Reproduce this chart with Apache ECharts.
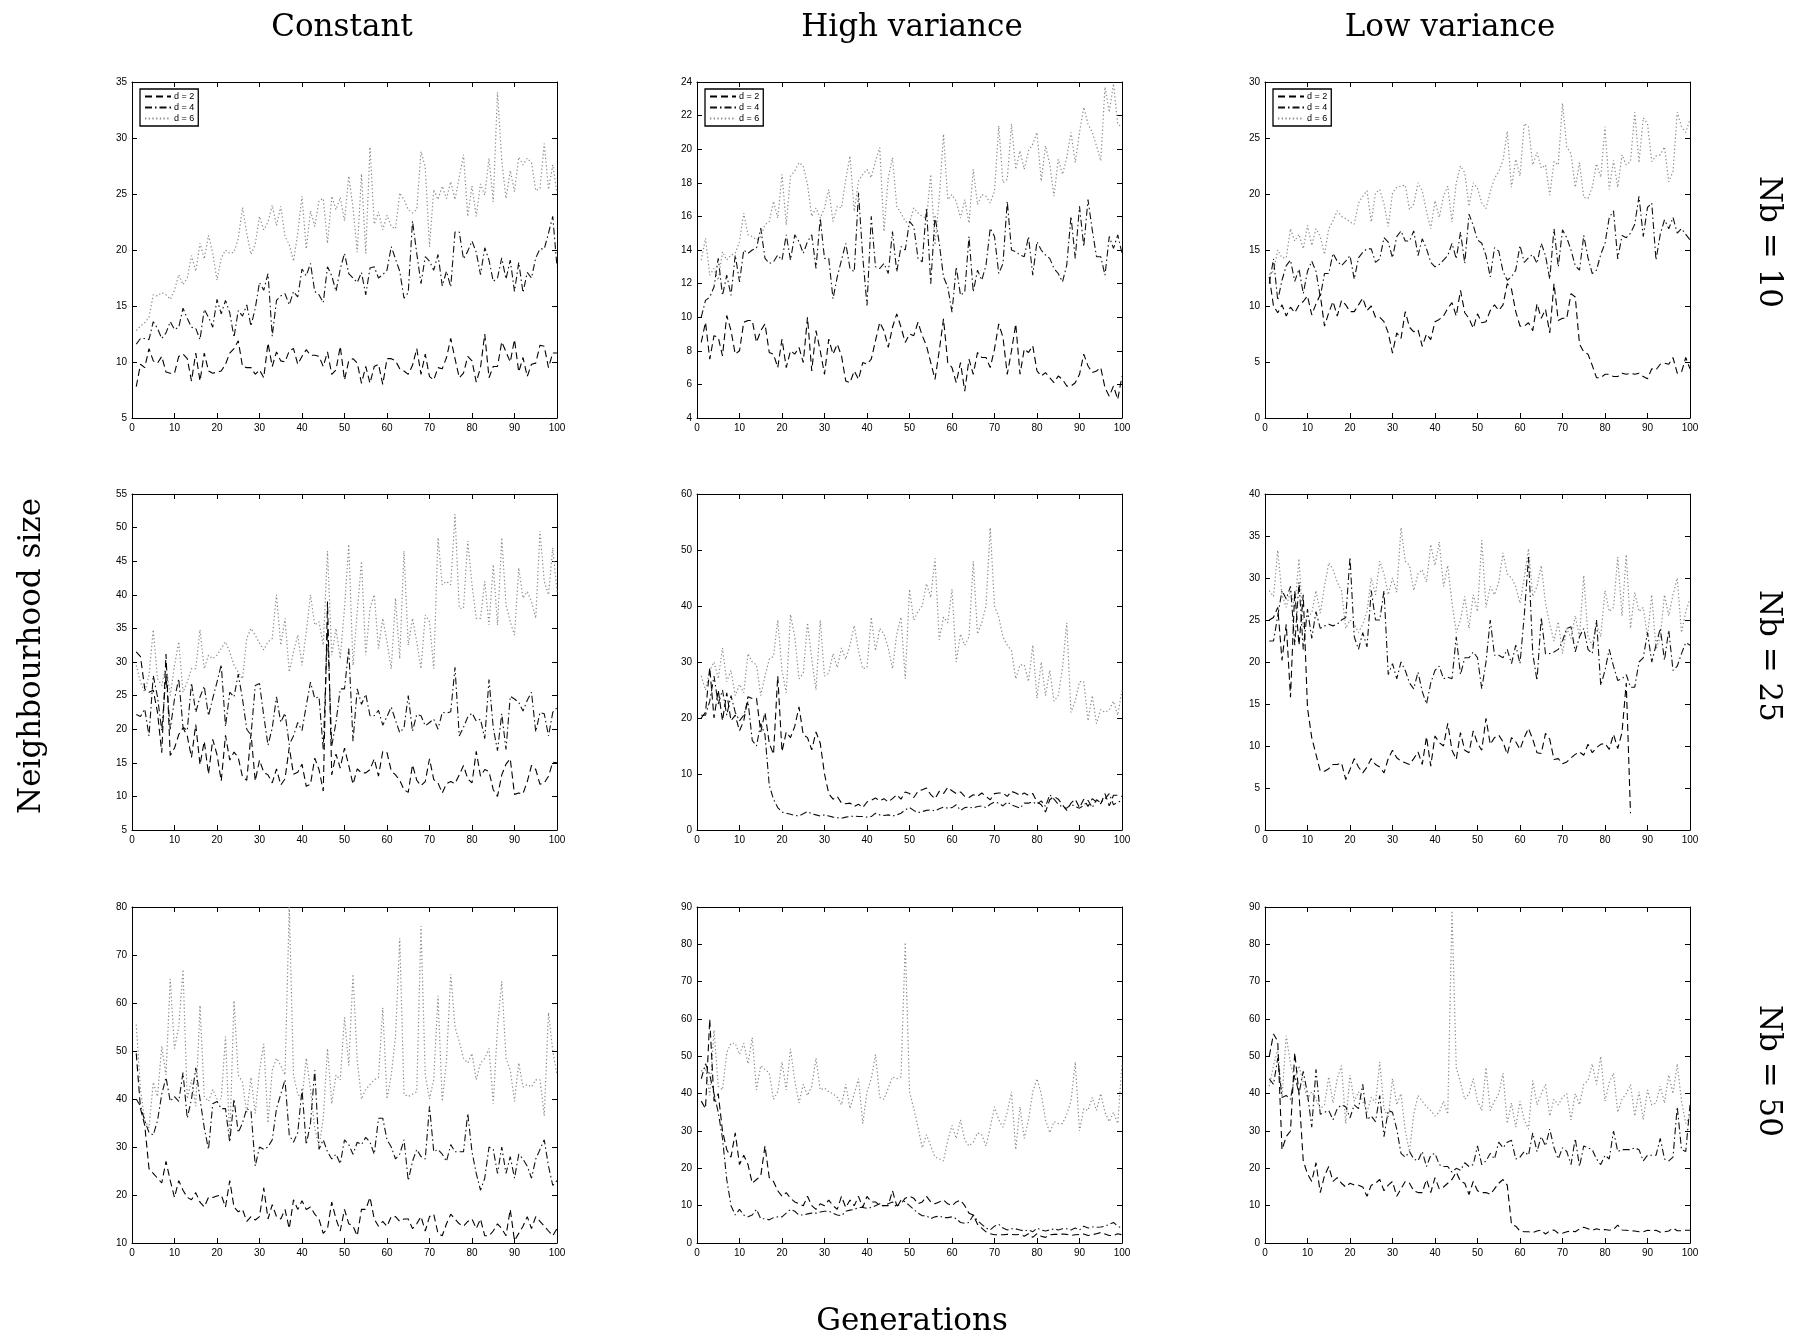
<!DOCTYPE html>
<html>
<head>
<meta charset="utf-8">
<script src="https://cdn.jsdelivr.net/npm/echarts@6/dist/echarts.min.js"></script>
<style>
  html, body { margin: 0; padding: 0; background: #fff; }
  #chart { width: 1810px; height: 1339px; }
</style>
</head>
<body>
<div id="chart"></div>
<script>
// generations on the x axis (1..100)
var generations = [];
for (var g = 1; g <= 100; g++) generations.push(g);

var columnTitles = ['Constant', 'High variance', 'Low variance'];
var rowTitles = ['Nb = 10', 'Nb = 25', 'Nb = 50'];
var seriesNames = ['d = 2', 'd = 4', 'd = 6'];
var xTitle = 'Generations';
var yTitle = 'Neighbourhood size';

// ---- Constant, Nb = 10 ----
var constNb10_d2 = [7.8,9.8,9.5,11.2,10.1,9.9,10.5,9.1,9.0,9.0, 10.5,10.7,10.3,8.3,10.8,8.3,10.8,9.2,9.0,9.1, 9.2,9.8,10.8,11.2,11.9,9.6,9.5,9.5,8.9,9.3, 8.6,11.7,9.6,10.9,10.1,10.0,11.0,11.2,9.8,10.5, 11.1,10.6,10.6,10.5,9.6,10.9,8.9,9.3,11.4,8.4, 10.1,10.3,9.9,8.1,9.6,8.1,9.6,9.8,8.0,10.3, 10.3,10.1,9.4,9.2,8.9,9.7,11.2,8.9,10.7,8.7, 8.4,9.5,9.4,10.4,12.1,10.3,8.6,9.0,10.5,10.1, 8.2,9.5,12.5,8.6,9.6,9.6,11.8,10.9,10.0,12.0, 9.1,10.4,8.7,9.8,9.9,11.5,11.4,9.5,10.8,10.8];
var constNb10_d4 = [11.6,12.1,12.1,12.0,13.6,13.0,12.1,12.6,13.6,12.9, 13.1,14.8,13.9,13.1,13.0,12.0,14.7,14.0,13.1,15.6, 14.3,15.5,14.4,12.2,14.6,14.1,15.1,13.2,14.8,17.1, 16.4,17.9,12.3,15.5,15.9,16.1,15.1,16.3,15.8,18.3, 17.7,18.8,16.3,16.0,15.3,18.5,17.7,16.3,18.3,19.7, 17.9,17.5,17.1,18.0,16.0,18.4,18.5,17.5,17.8,18.2, 20.3,19.2,18.1,15.7,16.2,22.6,19.7,17.0,19.4,19.0, 18.2,19.6,16.8,18.1,16.7,21.6,21.6,19.2,19.9,20.8, 19.8,17.8,20.2,19.1,17.2,17.5,19.3,17.4,19.1,16.3, 18.9,16.2,18.0,17.5,19.3,20.1,20.1,21.5,23.0,18.5];
var constNb10_d6 = [12.8,13.2,13.5,14.0,16.0,15.9,16.2,16.0,15.6,16.4, 17.8,16.9,17.5,19.5,18.1,20.6,19.2,21.3,19.7,17.3, 19.3,20.0,19.7,19.8,21.0,23.8,21.5,19.6,20.5,23.0, 21.8,22.5,24.0,22.2,23.9,21.2,20.5,19.0,21.5,24.8, 20.1,23.5,22.1,24.4,24.6,20.6,24.8,23.6,24.7,22.6, 26.6,23.8,19.8,26.8,19.7,29.2,22.3,23.4,21.8,23.1, 22.1,21.9,25.1,24.5,23.6,23.3,23.6,28.8,27.4,20.3, 25.4,24.5,25.7,24.6,26.1,24.5,26.5,28.5,23.0,25.7, 23.0,25.9,24.9,28.2,24.3,34.1,28.0,24.6,27.1,25.2, 28.3,27.6,28.2,27.8,25.3,25.5,29.5,25.4,27.6,25.1];

// ---- High variance, Nb = 10 ----
var highNb10_d2 = [8.5,9.7,7.5,8.9,8.8,7.7,10.1,9.2,7.8,8.0, 9.7,9.8,9.8,8.5,9.2,9.6,7.9,7.8,7.0,8.7, 7.0,8.0,7.8,8.2,7.3,10.0,6.8,9.2,8.0,6.6, 8.7,7.8,8.4,7.7,6.2,6.1,6.8,6.3,7.3,7.2, 7.5,8.6,9.7,9.2,8.2,9.4,10.2,9.4,8.5,9.0, 8.9,9.7,8.9,8.3,7.3,6.3,8.0,9.9,7.3,7.0, 6.1,7.3,5.6,7.5,6.6,7.9,7.6,7.6,7.0,8.1, 9.6,8.8,6.6,8.0,9.6,6.6,8.1,7.9,8.3,6.8, 6.5,6.7,6.4,6.1,6.5,6.3,5.9,5.9,6.1,6.6, 7.8,7.1,6.7,6.8,7.0,5.8,5.3,5.9,5.1,6.5];
var highNb10_d4 = [10.0,11.0,11.2,11.8,13.5,11.3,12.5,11.3,13.7,12.1, 14.0,13.8,14.0,14.1,15.3,13.5,13.2,13.3,13.7,13.4, 14.9,13.4,14.9,14.5,13.8,14.5,14.9,12.9,15.9,13.5, 13.5,11.1,12.4,13.4,14.4,12.9,12.7,17.4,13.6,10.7, 16.0,13.0,12.9,13.2,12.6,15.1,12.7,14.2,14.0,15.7, 15.4,13.5,13.3,16.5,12.0,16.0,14.4,12.4,11.8,10.3, 13.0,11.3,11.5,14.8,11.5,12.8,12.2,13.1,15.3,14.8, 12.6,13.2,16.9,14.0,13.9,13.7,13.6,14.8,12.5,14.5, 14.0,13.7,13.5,12.9,12.6,12.1,13.1,16.0,13.5,16.6, 14.2,17.0,15.2,13.6,13.6,12.5,14.8,14.1,14.9,13.8];
var highNb10_d6 = [13.4,14.7,12.5,12.9,12.2,13.9,13.4,13.7,13.8,14.5, 16.2,14.9,14.8,14.6,14.8,15.5,15.7,16.9,15.9,18.5, 15.5,18.4,18.7,19.2,19.0,17.9,16.0,16.5,15.9,16.5, 17.6,15.7,16.6,16.5,18.2,19.6,16.3,18.1,18.5,18.8, 18.3,19.3,20.1,15.1,18.3,19.5,16.6,16.2,15.7,15.6, 16.5,16.2,16.0,15.9,18.5,14.3,17.1,20.9,17.0,17.3, 16.9,15.9,17.0,15.6,18.8,16.7,17.3,17.2,16.8,17.5, 21.4,18.0,18.2,21.5,18.8,19.9,18.8,19.9,20.3,21.0, 18.1,20.2,19.1,17.2,19.4,18.5,19.5,21.0,19.2,21.0, 22.5,21.5,21.0,20.2,19.3,23.7,22.2,23.9,21.5,21.3];

// ---- Low variance, Nb = 10 ----
var lowNb10_d2 = [12.6,10.0,9.4,10.1,9.1,9.9,9.4,10.1,10.4,10.9, 9.2,10.2,11.0,8.2,9.4,10.4,9.1,10.5,10.1,9.5, 9.5,10.1,10.7,9.6,10.0,9.0,9.0,8.6,7.6,5.8, 7.6,7.1,9.5,8.1,7.7,7.9,6.4,7.5,7.0,8.6, 8.8,9.1,9.8,10.3,9.1,11.4,9.4,8.9,8.0,9.3, 8.5,8.6,9.6,10.1,9.6,10.1,12.0,11.5,9.5,8.2, 8.2,8.5,7.8,10.2,8.9,9.7,7.6,12.0,8.7,8.9, 8.9,11.1,10.8,6.6,5.9,5.7,4.7,3.6,3.6,3.9, 3.9,3.7,3.7,4.0,3.9,4.0,3.9,4.0,3.7,3.5, 4.4,4.3,4.8,4.9,4.8,5.4,4.0,4.1,5.4,4.4];
var lowNb10_d4 = [12.0,14.2,10.5,12.3,13.6,14.1,12.2,13.3,11.1,13.1, 14.0,13.1,10.8,12.9,12.9,14.7,14.0,13.6,14.0,14.5, 12.4,14.3,14.8,15.1,15.1,13.9,14.2,16.1,15.7,14.3, 16.2,16.7,15.8,15.8,16.7,14.5,16.0,15.1,13.9,13.5, 13.7,14.1,14.5,15.6,14.2,16.6,13.8,18.2,17.2,15.9, 15.6,14.5,12.6,15.2,14.9,13.1,12.3,12.6,13.2,15.4, 13.9,14.3,14.6,13.8,15.6,14.5,12.4,16.9,13.5,16.8, 16.1,15.0,13.6,13.2,16.3,14.3,12.9,13.2,14.6,15.6, 17.9,18.5,14.2,16.3,16.1,16.5,17.3,19.8,16.2,18.8, 19.2,14.1,16.4,17.7,16.9,17.9,16.5,16.9,16.4,15.9];
var lowNb10_d6 = [12.8,13.1,15.0,14.3,14.3,16.9,15.8,16.4,15.1,17.2, 15.4,16.9,16.2,14.6,16.9,17.6,18.5,18.0,17.8,17.5, 17.3,19.2,19.8,20.3,17.5,20.1,20.4,19.1,17.1,20.1, 20.6,20.7,20.8,18.6,19.1,21.0,20.3,18.4,16.9,19.4, 17.9,19.8,20.7,17.5,21.0,22.5,21.9,18.9,21.0,20.5, 19.2,18.7,20.2,21.4,22.0,23.0,25.6,20.6,23.1,21.6, 26.3,26.0,22.6,23.7,22.3,22.6,19.9,22.9,22.6,28.1, 24.2,23.6,20.6,22.8,19.7,19.6,20.6,22.7,21.5,26.0, 20.4,23.0,20.6,23.5,22.6,22.9,27.3,22.8,26.8,26.3, 22.9,23.4,23.5,24.2,21.1,22.0,27.3,26.0,25.5,26.7];

// ---- Constant, Nb = 25 ----
var constNb25_d2 = [31.5,30.8,26.0,25.5,25.8,22.5,16.5,31.2,16.1,17.2, 19.2,20.2,19.0,15.8,20.7,14.7,18.2,13.3,18.5,16.2, 12.3,19.1,15.4,16.6,15.8,12.9,12.4,19.3,12.3,15.4, 13.6,13.2,12.0,14.1,11.7,12.6,17.3,13.3,13.6,14.8, 11.5,11.8,15.7,14.0,10.8,39.0,13.2,16.3,14.2,17.2, 14.6,11.8,14.1,13.5,13.5,14.0,15.6,13.0,16.7,16.5, 13.8,13.2,12.4,11.0,10.6,14.7,12.4,11.6,12.2,15.6, 12.5,12.0,10.5,11.9,12.2,11.9,13.2,14.6,12.6,12.0, 16.7,13.0,14.0,13.7,11.0,10.0,13.2,14.8,15.6,10.3, 10.5,10.4,12.2,14.6,14.0,11.8,12.0,13.0,15.1,15.0];
var constNb25_d4 = [22.2,21.9,23.0,19.0,28.0,24.8,19.8,28.0,20.0,24.5, 27.5,20.3,19.8,26.9,22.5,24.8,26.4,22.0,24.6,27.0, 29.6,20.4,25.5,24.8,28.2,24.5,20.0,19.1,26.5,26.8, 22.0,17.6,20.2,24.8,21.0,22.4,17.7,19.0,21.0,19.8, 23.5,27.0,24.6,24.8,17.0,35.0,17.5,21.0,26.0,26.0, 32.0,18.2,26.0,23.7,25.2,22.0,22.0,22.8,20.6,21.9, 23.3,21.3,19.5,20.2,25.0,19.7,22.2,22.0,20.5,21.0, 21.5,20.0,22.5,22.4,22.6,29.2,19.0,20.3,21.8,22.4, 21.2,21.5,18.6,27.4,20.2,16.8,22.3,17.0,24.9,24.5, 24.0,22.7,24.3,25.5,19.6,22.5,22.3,19.0,22.5,23.2];
var constNb25_d6 = [29.5,27.0,25.5,28.0,34.8,27.5,26.5,29.5,25.0,29.5, 33.0,25.5,27.0,29.0,29.0,34.8,29.0,31.0,30.5,31.0, 32.0,33.0,31.5,29.5,28.5,27.5,33.5,35.0,34.0,32.8, 31.8,33.0,33.5,40.0,32.5,36.5,28.5,31.5,34.0,29.5, 34.5,40.0,35.5,36.0,32.5,46.5,31.0,35.0,30.5,38.0, 47.5,29.5,37.5,45.0,31.0,38.0,40.0,32.0,36.5,33.0, 29.0,39.5,30.5,46.5,32.5,36.5,33.0,29.0,37.0,36.0, 29.0,48.5,41.5,42.0,41.5,52.0,38.0,38.0,48.0,41.5, 36.5,36.5,42.0,35.5,44.5,35.5,48.5,38.5,36.0,34.0, 44.0,39.5,40.5,39.0,36.5,49.5,42.0,40.0,47.0,40.5];

// ---- High variance, Nb = 25 ----
var highNb25_d2 = [20.0,21.0,29.0,20.0,25.0,19.5,24.5,19.5,20.5,17.7, 19.5,23.8,23.5,23.5,17.5,21.0,15.5,13.5,27.5,14.0, 17.5,16.5,18.5,22.0,17.0,16.5,14.3,17.5,15.5,10.0, 6.5,5.5,6.0,4.8,4.7,4.8,4.2,4.6,4.0,5.0, 5.3,5.7,5.2,5.6,5.0,5.6,6.3,5.5,6.8,6.5, 5.8,6.9,7.2,7.5,6.3,5.6,6.9,6.5,7.6,7.0, 6.5,6.8,6.0,5.8,6.3,6.0,6.6,6.0,5.4,6.5, 6.6,6.6,6.0,6.9,6.6,6.2,6.6,6.2,6.5,5.0, 4.5,3.2,5.4,6.0,5.5,4.5,3.5,4.8,5.5,4.0, 5.5,4.2,5.6,5.0,4.7,6.5,4.3,6.2,6.2,6.0];
var highNb25_d4 = [20.5,20.5,23.0,27.5,22.5,25.0,20.5,24.0,21.0,19.5, 20.5,23.0,16.0,15.0,19.0,17.0,8.0,5.5,4.0,3.2, 3.0,2.8,2.6,2.5,2.9,3.3,2.9,2.7,2.5,2.7, 2.5,2.3,2.2,2.1,2.3,2.4,2.5,2.4,2.4,2.3, 2.4,3.0,2.7,2.6,2.7,2.5,2.7,3.0,3.6,4.0, 3.5,3.1,3.3,3.5,3.6,3.4,3.8,4.1,3.9,4.0, 4.5,3.5,4.0,4.1,3.9,4.2,4.3,4.0,4.6,5.0, 4.8,4.3,5.0,4.5,4.2,3.9,4.8,4.8,5.0,4.6, 5.2,4.2,6.3,5.5,4.6,4.1,3.9,4.6,4.2,3.9, 4.4,5.3,4.0,5.4,4.9,5.6,6.5,4.5,5.0,5.2];
var highNb25_d6 = [27.5,25.0,28.5,30.0,27.0,32.5,26.5,28.5,24.0,26.0, 24.5,31.5,30.0,29.5,24.0,27.5,30.5,31.0,37.5,28.5, 24.5,38.5,34.5,27.0,28.0,37.0,30.5,25.0,37.5,27.5, 28.0,31.5,29.0,32.5,30.5,33.0,36.5,32.0,28.8,29.0, 38.0,32.0,36.0,35.0,32.5,28.8,35.0,38.0,27.0,43.0, 37.5,39.0,40.0,44.0,41.5,48.5,34.0,38.0,37.0,43.0, 30.0,35.0,33.0,34.5,48.0,35.0,37.0,40.0,54.0,40.0, 38.0,34.5,33.0,32.0,27.0,29.5,29.5,26.5,33.0,23.5, 30.0,24.0,28.5,23.0,24.0,29.0,37.0,21.0,23.0,26.5, 26.5,19.5,24.0,19.0,21.5,21.0,21.5,23.0,20.5,25.0];

// ---- Low variance, Nb = 25 ----
var lowNb25_d2 = [25.0,25.3,26.5,20.2,24.5,15.8,28.5,22.0,28.0,14.5, 11.0,9.0,7.0,7.0,7.3,7.8,7.8,8.0,6.0,7.2, 8.5,7.5,6.8,7.5,8.5,7.8,7.5,6.8,8.5,9.5, 8.6,8.2,8.0,7.8,8.5,9.3,7.8,11.1,7.6,11.2, 10.4,10.0,12.7,9.5,8.4,11.6,9.5,9.2,11.8,10.3, 9.5,13.3,10.2,11.0,11.3,10.5,9.0,11.0,10.5,9.6, 11.0,12.1,10.8,9.2,9.1,11.5,10.8,8.4,8.5,7.9, 8.1,8.6,9.0,9.3,8.9,10.2,9.2,9.8,10.2,10.3, 9.6,11.4,9.7,11.6,17.5,2.0,null,null,null,null, null,null,null,null,null,null,null,null,null,null];
var lowNb25_d4 = [22.5,22.5,25.5,28.5,27.5,29.0,22.0,29.5,21.5,26.3, 22.8,26.0,24.0,24.3,24.5,24.3,24.5,25.0,25.3,32.5, 23.0,21.5,23.5,21.8,28.5,25.0,25.0,28.5,18.5,19.8, 18.0,20.0,19.0,17.5,16.8,18.8,16.5,15.0,17.5,19.0, 19.5,18.0,18.2,18.0,23.0,18.5,20.5,20.5,21.2,20.5, 16.8,20.0,25.0,20.8,20.8,20.5,21.5,19.8,22.0,19.8, 25.5,32.5,21.0,17.8,25.3,21.0,21.0,21.2,21.5,22.5, 24.0,24.2,21.2,23.0,24.0,21.5,21.0,25.0,17.2,19.0, 21.5,19.5,17.8,18.0,18.5,17.0,17.0,20.0,20.5,23.5, 20.0,22.0,24.0,20.2,23.8,19.0,19.5,21.0,22.3,22.0];
var lowNb25_d6 = [28.5,27.8,33.3,28.0,26.5,28.5,26.5,32.3,24.0,25.5, 25.8,28.5,25.8,29.0,31.8,31.0,29.5,28.5,24.0,25.0, 24.5,23.5,24.5,26.0,30.0,28.0,32.0,30.5,28.0,30.0, 28.3,36.0,32.0,31.5,28.5,30.5,31.0,29.5,34.0,31.5, 34.3,29.0,31.5,27.0,23.5,25.0,27.8,24.0,28.0,26.0, 34.5,26.5,29.0,28.0,29.5,33.0,30.5,30.0,29.0,27.0, 30.0,33.5,27.8,29.0,31.5,27.0,24.5,22.5,24.8,21.0, 24.0,22.8,25.5,23.0,30.3,23.0,22.0,24.5,23.0,28.5, 26.0,26.5,32.5,25.5,32.8,24.0,28.3,26.0,26.5,23.0, 28.0,21.5,23.0,28.0,25.5,28.0,30.0,23.5,26.0,27.5];

// ---- Constant, Nb = 50 ----
var constNb50_d2 = [49.5,38.0,34.5,25.5,24.5,23.5,22.5,27.0,23.0,19.5, 23.0,21.0,19.5,19.0,20.5,18.5,17.5,19.5,19.5,19.8, 20.0,17.5,23.0,17.5,16.5,17.0,14.5,15.5,14.8,15.5, 21.5,15.0,18.0,15.5,15.0,17.0,13.0,19.0,17.0,18.8, 17.0,17.5,16.0,15.0,12.0,13.0,18.5,15.0,12.5,17.0, 14.0,13.5,11.5,17.0,17.0,19.5,15.0,13.5,14.5,13.5, 15.5,15.5,14.5,15.0,15.0,13.0,14.0,15.5,12.5,15.5, 16.0,12.0,11.5,14.0,16.0,15.0,14.0,13.5,14.5,15.0, 13.0,15.0,11.5,11.5,12.5,14.0,13.0,11.5,17.0,10.5, 12.0,13.5,15.5,13.0,15.5,14.5,13.5,12.5,11.5,13.0];
var constNb50_d4 = [40.0,38.5,35.5,33.0,32.5,35.5,41.0,44.5,39.5,40.5, 39.5,45.5,36.0,40.0,46.5,40.0,34.0,29.5,39.0,39.5, 38.0,38.0,31.0,40.0,33.0,35.0,38.0,37.5,26.0,30.0, 29.5,30.0,31.5,38.0,41.0,44.0,32.5,31.0,33.0,42.0, 30.5,35.0,46.0,29.5,31.5,29.0,27.5,28.5,26.5,31.5, 30.5,28.5,31.0,30.5,32.0,31.0,28.5,36.0,36.0,31.5, 30.0,27.5,28.5,31.5,23.0,27.0,29.5,28.0,27.5,38.5, 29.0,29.5,28.5,27.0,30.5,29.0,29.0,29.0,37.0,29.0, 24.5,21.0,23.5,30.0,29.5,24.5,30.0,24.5,28.0,23.5, 28.5,27.5,26.0,23.5,27.5,29.5,31.5,26.0,22.0,23.0];
var constNb50_d6 = [55.5,42.0,35.5,34.0,43.5,40.5,51.0,45.0,65.0,50.5, 55.0,67.0,40.0,44.0,38.5,59.5,40.5,39.5,42.0,40.0, 40.0,53.0,31.5,60.5,45.0,43.5,37.0,44.5,37.0,46.0, 51.5,35.0,46.0,48.5,47.0,45.0,80.0,45.0,41.0,40.0, 48.5,42.0,34.0,30.0,36.0,50.5,39.0,45.0,44.0,57.0, 47.0,66.0,48.0,40.0,42.0,43.0,44.0,44.5,59.0,40.0, 45.0,53.0,73.5,41.0,40.5,41.0,41.5,76.0,45.0,40.0, 44.0,61.5,39.5,48.0,66.0,55.0,52.0,48.5,47.5,49.5, 44.0,47.5,48.5,50.5,39.0,55.0,64.5,48.5,46.0,39.5, 47.5,42.5,43.0,42.5,44.0,44.0,36.5,58.0,50.0,45.0];

// ---- High variance, Nb = 50 ----
var highNb50_d2 = [38.0,36.0,60.0,38.0,40.0,30.0,25.0,23.0,29.5,21.0, 23.5,21.0,16.0,17.0,18.0,26.0,17.5,16.5,14.0,12.5, 13.5,12.0,11.0,10.5,10.0,12.5,10.0,9.0,10.5,10.0, 11.5,10.0,9.0,12.5,9.5,11.5,10.0,12.5,9.5,12.5, 11.0,11.0,10.0,10.0,10.0,14.0,10.0,10.5,12.0,12.5, 12.0,10.5,11.0,12.5,11.0,10.5,11.0,11.5,10.5,10.0, 11.0,11.5,10.0,8.0,7.5,5.0,4.0,3.0,2.5,2.2, 2.2,2.2,2.3,2.3,2.2,2.3,1.8,2.5,1.5,2.5, 1.8,1.5,2.2,2.3,2.3,2.4,2.3,2.0,2.2,2.3, 2.4,2.0,2.2,2.5,2.8,2.4,2.0,2.0,2.5,2.2];
var highNb50_d4 = [44.0,48.0,45.0,40.0,35.0,28.0,17.0,10.0,7.5,9.0, 7.5,7.0,7.5,9.0,6.5,6.5,6.2,6.8,7.0,7.0, 8.0,9.0,8.5,7.5,7.5,7.8,8.0,8.0,8.3,8.5, 8.5,8.0,7.5,7.3,8.5,8.8,9.0,9.5,9.5,9.3, 9.5,10.0,10.5,10.0,10.5,11.0,9.5,11.5,11.0,10.0, 9.0,8.0,7.3,7.3,6.5,7.0,7.2,6.8,6.8,7.0, 6.5,5.5,5.3,5.5,7.5,6.0,5.0,4.0,3.5,4.5, 5.0,4.0,3.5,3.8,3.8,3.5,3.2,3.5,3.0,4.0, 3.5,3.2,3.5,3.8,3.5,3.8,3.8,3.5,4.0,3.5, 4.5,4.0,4.3,4.2,4.3,4.5,5.0,5.5,4.5,4.0];
var highNb50_d6 = [46.0,47.0,39.5,57.0,42.0,41.0,51.0,53.5,53.5,50.5, 53.5,48.0,55.0,41.0,47.5,46.5,45.5,38.5,40.5,48.5, 41.0,52.0,43.5,37.5,42.5,39.5,42.0,49.5,41.0,41.5, 40.5,40.0,39.0,37.0,42.5,36.0,40.0,44.0,32.0,40.5, 44.0,50.5,39.0,38.5,41.5,44.5,44.0,44.5,80.5,40.5, 36.0,31.0,25.5,29.0,26.0,23.0,22.5,22.0,27.5,31.5, 28.0,33.0,27.5,26.0,27.0,29.5,29.0,26.0,31.0,36.5, 33.0,31.0,35.0,40.5,25.0,36.5,28.0,33.0,40.5,44.0, 40.0,33.0,29.5,32.5,32.0,32.0,34.5,38.0,48.5,30.0, 36.0,35.5,39.0,35.5,40.0,35.0,32.5,35.0,32.0,48.0];

// ---- Low variance, Nb = 50 ----
var lowNb50_d2 = [50.0,56.0,54.0,25.0,28.5,30.0,51.0,40.0,22.0,18.5, 16.5,21.5,13.5,18.0,20.5,16.5,17.5,16.0,15.0,16.0, 15.5,15.5,15.0,12.5,15.5,16.0,17.0,14.0,15.5,16.5, 12.5,14.5,16.5,16.0,14.0,13.5,13.5,17.0,13.5,17.5, 14.5,15.0,16.0,17.0,19.0,16.5,16.0,13.0,16.5,14.0, 13.5,13.5,13.0,14.5,16.0,17.0,15.5,5.0,4.5,3.2, 3.0,3.0,2.8,3.2,3.5,2.4,3.2,3.5,2.6,2.6, 3.0,3.2,3.0,3.8,4.2,3.8,3.4,3.8,3.5,3.6, 3.4,3.6,4.8,3.5,3.4,3.3,3.2,3.0,3.0,3.4, 3.3,3.4,2.9,3.0,3.2,4.0,3.3,3.3,3.4,3.4];
var lowNb50_d4 = [44.0,42.5,49.5,39.0,39.5,38.5,45.0,40.0,46.0,40.0, 31.0,46.5,34.5,35.0,35.5,33.0,36.0,37.0,36.5,33.5, 37.0,36.0,42.5,33.0,34.0,32.5,39.5,28.5,35.5,35.0, 30.5,24.0,23.0,24.5,22.5,22.0,24.5,20.5,23.5,24.0, 21.0,20.5,20.5,19.0,20.0,19.5,21.5,20.5,21.0,26.0, 21.0,22.0,24.0,22.5,27.0,25.5,27.0,27.5,22.5,23.0, 24.5,23.5,29.5,24.5,28.5,26.0,30.5,25.5,22.5,25.5, 24.5,21.0,28.0,20.5,26.0,25.5,25.0,22.5,21.0,23.5, 22.5,30.0,24.5,25.0,25.0,25.0,25.5,25.0,22.0,23.5, 23.5,23.5,28.0,22.5,22.0,23.0,36.5,25.0,24.5,37.0];
var lowNb50_d6 = [42.0,47.5,52.0,39.0,55.5,48.0,44.0,47.5,43.0,38.5, 40.5,38.5,36.0,37.0,44.5,37.5,44.0,47.5,32.0,45.0, 38.0,40.5,38.0,35.0,39.0,37.5,48.5,36.0,33.5,44.0, 37.0,40.0,30.0,24.5,34.5,39.5,38.0,36.5,35.5,34.0, 35.0,38.0,34.5,89.0,47.0,43.0,38.5,40.0,44.0,38.0, 35.5,47.0,35.5,38.0,40.0,45.5,32.0,37.5,31.0,38.0, 33.0,30.5,43.5,37.0,40.0,42.5,34.0,38.5,37.0,39.0, 40.0,33.0,40.0,37.0,42.5,43.5,48.0,42.5,50.0,38.0, 43.0,45.5,35.0,38.5,40.0,42.5,34.0,40.5,33.0,41.0, 37.0,37.5,42.0,37.5,45.0,40.0,48.0,38.0,32.0,34.0];

// panels in reading order, with their y axis range
var panels = [
  { lines: [constNb10_d2, constNb10_d4, constNb10_d6], yMin: 5, yMax: 35, yStep: 5 },
  { lines: [highNb10_d2, highNb10_d4, highNb10_d6], yMin: 4, yMax: 24, yStep: 2 },
  { lines: [lowNb10_d2, lowNb10_d4, lowNb10_d6], yMin: 0, yMax: 30, yStep: 5 },
  { lines: [constNb25_d2, constNb25_d4, constNb25_d6], yMin: 5, yMax: 55, yStep: 5 },
  { lines: [highNb25_d2, highNb25_d4, highNb25_d6], yMin: 0, yMax: 60, yStep: 10 },
  { lines: [lowNb25_d2, lowNb25_d4, lowNb25_d6], yMin: 0, yMax: 40, yStep: 5 },
  { lines: [constNb50_d2, constNb50_d4, constNb50_d6], yMin: 10, yMax: 80, yStep: 10 },
  { lines: [highNb50_d2, highNb50_d4, highNb50_d6], yMin: 0, yMax: 90, yStep: 10 },
  { lines: [lowNb50_d2, lowNb50_d4, lowNb50_d6], yMin: 0, yMax: 90, yStep: 10 }
];

var colLeft = [132, 697, 1265];
var rowTop = [82, 494, 907];
var W = 425, H = 336;

// matlab-like line styles: dashed, dash-dot, dotted grey
var lineStyles = [
  { color: '#000', width: 1.1, type: [7, 4] },
  { color: '#111', width: 1.1, type: [7, 3, 1.5, 3] },
  { color: '#8a8a8a', width: 1.2, type: [1.3, 2.4] }
];

var tickFont = { fontSize: 10, color: '#000', fontFamily: 'Liberation Sans' };

var grids = [], xAxes = [], yAxes = [], series = [], legends = [];

panels.forEach(function (p, i) {
  var r = Math.floor(i / 3), c = i % 3;
  grids.push({ left: colLeft[c], top: rowTop[r], width: W, height: H, containLabel: false });

  var baseX = {
    gridIndex: i, type: 'value', min: 0, max: 100, interval: 10,
    axisLine: { show: true, onZero: false, lineStyle: { color: '#000', width: 1 } },
    axisTick: { show: true, inside: true, length: 5, lineStyle: { color: '#000' } },
    splitLine: { show: false }
  };
  xAxes.push(Object.assign({}, baseX, { position: 'bottom', axisLabel: Object.assign({ margin: 5 }, tickFont) }));
  xAxes.push(Object.assign({}, baseX, { position: 'top', axisLabel: { show: false } }));

  var baseY = {
    gridIndex: i, type: 'value', min: p.yMin, max: p.yMax, interval: p.yStep,
    axisLine: { show: true, onZero: false, lineStyle: { color: '#000', width: 1 } },
    axisTick: { show: true, inside: true, length: 5, lineStyle: { color: '#000' } },
    splitLine: { show: false }
  };
  yAxes.push(Object.assign({}, baseY, { position: 'left', axisLabel: Object.assign({ margin: 5 }, tickFont) }));
  yAxes.push(Object.assign({}, baseY, { position: 'right', axisLabel: { show: false } }));

  p.lines.forEach(function (vals, k) {
    series.push({
      name: seriesNames[k],
      type: 'line',
      xAxisIndex: 2 * i,
      yAxisIndex: 2 * i,
      data: generations.map(function (gen, j) { return [gen, vals[j]]; }),
      symbol: 'none',
      showSymbol: false,
      connectNulls: false,
      lineStyle: lineStyles[k],
      itemStyle: { color: lineStyles[k].color },
      z: 3 - k
    });
  });

  // legend only in the top row
  if (r === 0) {
    legends.push({
      orient: 'vertical',
      left: colLeft[c] + 8,
      top: rowTop[r] + 7,
      data: seriesNames,
      selectedMode: false,
      backgroundColor: '#fff',
      borderColor: '#000',
      borderWidth: 1.3,
      borderRadius: 0,
      padding: [3, 4, 3, 4],
      itemWidth: 26,
      itemHeight: 8,
      itemGap: 2,
      itemStyle: { opacity: 0 },
      textStyle: { fontSize: 9, color: '#000', fontFamily: 'Liberation Sans', padding: [0, 0, 0, -2] }
    });
  }
});

var serifFont = 'DejaVu Serif';
var graphics = [];
var titleX = [342, 912, 1450];
columnTitles.forEach(function (t, c) {
  graphics.push({ type: 'text', x: titleX[c], y: 28,
    style: { text: t, fontSize: 31, fontFamily: serifFont, fill: '#000', align: 'center', verticalAlign: 'middle' } });
});
var rowLabelY = [242, 656, 1071];
rowTitles.forEach(function (t, r) {
  graphics.push({ type: 'text', x: 1768, y: rowLabelY[r], rotation: -Math.PI / 2,
    style: { text: t, fontSize: 31, fontFamily: serifFont, fill: '#000', align: 'center', verticalAlign: 'middle' } });
});
graphics.push({ type: 'text', x: 32, y: 656, rotation: Math.PI / 2,
  style: { text: yTitle, fontSize: 31, fontFamily: serifFont, fill: '#000', align: 'center', verticalAlign: 'middle' } });
graphics.push({ type: 'text', x: 912, y: 1322,
  style: { text: xTitle, fontSize: 31, fontFamily: serifFont, fill: '#000', align: 'center', verticalAlign: 'middle' } });

var chart = echarts.init(document.getElementById('chart'));
chart.setOption({
  animation: false,
  backgroundColor: '#fff',
  grid: grids,
  xAxis: xAxes,
  yAxis: yAxes,
  legend: legends,
  series: series,
  graphic: graphics
});
</script>
</body>
</html>
